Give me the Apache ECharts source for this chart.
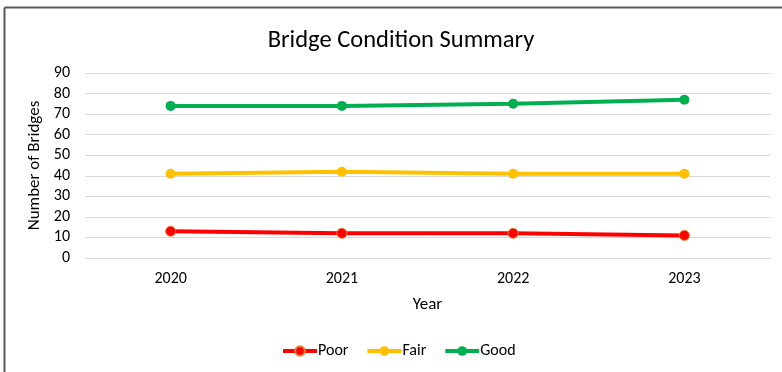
<!DOCTYPE html>
<html>
<head>
<meta charset="utf-8">
<script src="https://cdn.jsdelivr.net/npm/echarts@6/dist/echarts.min.js"></script>
<style>
  html, body { margin: 0; padding: 0; background: #fff; }
  #chart { width: 782px; height: 372px; }
</style>
</head>
<body>
<div id="chart"></div>
<script>
// Bridge counts by condition rating, per inspection year
const years = ['2020', '2021', '2022', '2023'];
const poor = [13, 12, 12, 11];
const fair = [41, 42, 41, 41];
const good = [74, 74, 75, 77];
const yTicks = { min: 0, max: 90, step: 10 };

const FONT = 'Carlito, Calibri, "Open Sans", sans-serif';

function lineSeries(name, data, color, border) {
  return {
    name: name,
    type: 'line',
    data: data,
    symbol: 'circle',
    symbolSize: 10,
    lineStyle: { color: color, width: 4 },
    itemStyle: { color: color, borderColor: border, borderWidth: border === color ? 0 : 1 },
    emphasis: { disabled: true },
    z: 3
  };
}

const chart = echarts.init(document.getElementById('chart'), null, { renderer: 'canvas' });
chart.setOption({
  animation: false,
  backgroundColor: '#fff',
  textStyle: { fontFamily: FONT },
  title: {
    text: 'Bridge Condition Summary',
    left: 396,
    textAlign: 'center',
    top: 23,
    textStyle: { fontFamily: FONT, fontSize: 24.5, fontWeight: 'normal', color: '#000' }
  },
  legend: {
    bottom: 8,
    left: 276,
    padding: [5, 5, 5, 5],
    itemWidth: 34,
    itemHeight: 12,
    itemGap: 17,
    lineStyle: { width: 4 },
    textStyle: { fontFamily: FONT, fontSize: 16, color: '#000', padding: [0, 0, 0, -4] },
    data: ['Poor', 'Fair', 'Good']
  },
  grid: { left: 85, right: 12, top: 73, bottom: 114, containLabel: false },
  xAxis: {
    type: 'category',
    data: years,
    boundaryGap: true,
    name: 'Year',
    nameLocation: 'middle',
    nameGap: 38,
    nameTextStyle: { fontFamily: FONT, fontSize: 17, color: '#000' },
    axisLine: { show: false },
    axisTick: { show: false },
    axisLabel: { fontFamily: FONT, fontSize: 16, color: '#000', margin: 13 }
  },
  yAxis: {
    type: 'value',
    min: yTicks.min,
    max: yTicks.max,
    interval: yTicks.step,
    name: 'Number of Bridges',
    nameLocation: 'middle',
    nameGap: 35,
    nameTextStyle: { fontFamily: FONT, fontSize: 17, color: '#000' },
    axisLine: { show: false },
    axisTick: { show: false },
    axisLabel: { fontFamily: FONT, fontSize: 16, color: '#000', margin: 15 },
    splitLine: { lineStyle: { color: '#d9d9d9', width: 1 } }
  },
  graphic: [
    { type: 'line', shape: { x1: 4.5, y1: 7.5, x2: 782, y2: 7.5 }, style: { stroke: '#595959', lineWidth: 2 }, silent: true },
    { type: 'line', shape: { x1: 4.5, y1: 7.5, x2: 4.5, y2: 372 }, style: { stroke: '#595959', lineWidth: 2 }, silent: true }
  ],
  series: [
    lineSeries('Poor', poor, '#ff0000', '#ed7d31'),
    lineSeries('Fair', fair, '#ffc000', '#ffc000'),
    lineSeries('Good', good, '#00b050', '#00b050')
  ]
});
</script>
</body>
</html>
